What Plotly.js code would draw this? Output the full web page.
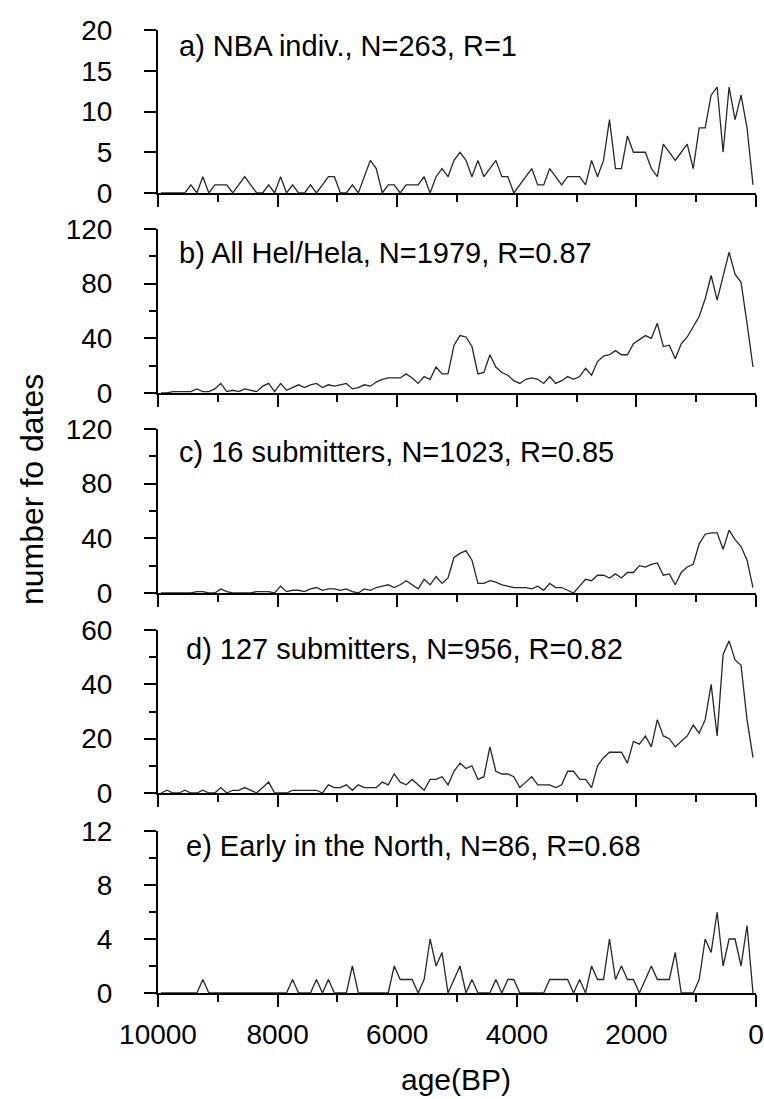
<!DOCTYPE html>
<html>
<head>
<meta charset="utf-8">
<script src="https://cdn.plot.ly/plotly-3.0.1.min.js"></script>
<style>html,body{margin:0;padding:0;background:#fff;}#chart{width:764px;height:1099px;}</style>
</head>
<body>
<div id="chart"></div>
<script>
// Bin centres (years BP), 100-year bins
const ageBP = [9950,9850,9750,9650,9550,9450,9350,9250,9150,9050,
8950,8850,8750,8650,8550,8450,8350,8250,8150,8050,
7950,7850,7750,7650,7550,7450,7350,7250,7150,7050,
6950,6850,6750,6650,6550,6450,6350,6250,6150,6050,
5950,5850,5750,5650,5550,5450,5350,5250,5150,5050,
4950,4850,4750,4650,4550,4450,4350,4250,4150,4050,
3950,3850,3750,3650,3550,3450,3350,3250,3150,3050,
2950,2850,2750,2650,2550,2450,2350,2250,2150,2050,
1950,1850,1750,1650,1550,1450,1350,1250,1150,1050,
950,850,750,650,550,450,350,250,150,50];

const nbaIndiv = [0,0,0,0,0,1,0,2,0,1, 1,1,0,1,2,1,0,0,1,0, 2,0,1,0,0,1,0,1,2,2, 0,0,1,0,2,4,3,0,1,1, 0,1,1,1,2,0,2,3,2,4,
5,4,2,4,2,3,4,2,2,0, 1,2,3,1,1,3,2,1,2,2, 2,1,4,2,4,9,3,3,7,5, 5,5,3,2,6,5,4,5,6,3, 8,8,12,13,5,13,9,12,8,1];

const allHel = [0,0,1,1,1,1,3,1,1,3, 7,1,2,1,3,2,1,5,7,1, 7,2,4,6,4,6,7,4,6,5, 6,7,3,4,6,5,8,10,11,11, 11,14,11,7,12,10,19,14,14,35,
42,41,34,14,15,28,19,15,13,9, 7,10,11,10,7,12,7,9,12,10, 12,18,13,23,27,28,31,28,28,36, 39,42,40,51,34,35,25,36,41,48, 56,69,86,68,85,103,87,81,51,19];

const sub16 = [0,0,0,0,0,0,1,1,0,0, 3,1,0,0,0,0,1,1,1,0, 5,1,2,2,1,3,4,2,3,3, 2,3,1,0,3,2,4,5,6,4, 6,9,6,3,10,6,12,7,11,26,
29,31,24,7,7,9,8,6,5,4, 4,4,3,5,2,7,4,4,2,0, 5,10,9,13,13,11,14,11,15,15, 20,19,21,22,13,14,6,15,19,21, 36,43,44,44,32,46,39,34,24,4];

const sub127 = [0,1,0,0,1,0,0,1,0,0, 2,0,1,1,2,1,0,2,4,0, 0,0,1,1,1,1,1,0,3,2, 2,3,1,3,2,2,2,4,3,7, 4,3,5,3,1,5,5,6,3,8,
11,9,10,5,6,17,8,7,7,6, 2,4,6,3,3,3,2,3,8,8, 5,5,2,10,13,15,15,15,11,19, 18,21,17,27,21,20,17,19,21,25, 22,27,40,21,51,56,49,47,27,13];

const earlyNorth = [0,0,0,0,0,0,0,1,0,0, 0,0,0,0,0,0,0,0,0,0, 0,0,1,0,0,0,1,0,1,0, 0,0,2,0,0,0,0,0,0,2, 1,1,1,0,1,4,2,3,0,1,
2,0,1,0,0,0,1,0,1,1, 0,0,0,0,0,1,1,1,1,0, 1,0,2,1,1,4,1,2,1,1, 0,1,2,1,1,1,3,0,0,0, 1,4,3,6,2,4,4,2,5,0];

const panelLabels = [
  "a) NBA indiv., N=263, R=1",
  "b) All Hel/Hela, N=1979, R=0.87",
  "c) 16 submitters, N=1023, R=0.85",
  "d) 127 submitters, N=956, R=0.82",
  "e) Early in the North, N=86, R=0.68"
];
const series = [nbaIndiv, allHel, sub16, sub127, earlyNorth];
const yMax = [20, 120, 120, 60, 12];
const yLabelStep = [5, 40, 40, 20, 4];
const yMinorStep = [5, 20, 20, 10, 2];
const xTickLabels = ["10000","8000","6000","4000","2000","0"];
const xTickVals = [10000,8000,6000,4000,2000,0];
const xTitle = "age(BP)";
const yTitle = "number fo dates";

// ---- layout geometry (pixels) ----
const W = 764, H = 1099;
const M = {l: 158, r: 8, t: 30, b: 106};
const plotH = H - M.t - M.b, plotW = W - M.l - M.r;
const fy = px => (H - M.b - px) / plotH;
const fx = px => (px - M.l) / plotW;
const panelTop = [30, 229, 429, 630, 831];
const panelBot = [193, 393, 593, 793, 993];
const labelX = [177, 177, 177, 184, 184];
const labelY = [46, 253, 452, 649, 846];

const FONT = "Liberation Sans, Arial, Helvetica, sans-serif";
const data = [];
const layout = {
  width: W, height: H,
  margin: M,
  paper_bgcolor: "#fff", plot_bgcolor: "#fff",
  showlegend: false,
  font: {family: FONT, size: 28, color: "#000"},
  annotations: []
};

for (let i = 0; i < 5; i++) {
  const s = i === 0 ? "" : String(i + 1);
  data.push({
    x: ageBP, y: series[i], type: "scatter", mode: "lines",
    xaxis: "x" + s, yaxis: "y" + s,
    line: {color: "#262626", width: 1.3},
    hoverinfo: "skip"
  });
  layout["xaxis" + s] = {
    domain: [0, 1], anchor: "y" + s,
    range: [10000, 0], autorange: false,
    showline: true, linecolor: "#000", linewidth: 2,
    ticks: "outside", ticklen: 12, tickwidth: 2, tickcolor: "#000",
    tickmode: "array", tickvals: xTickVals, ticktext: xTickLabels,
    minor: {dtick: 1000, tick0: 0, ticks: "outside", ticklen: 7, tickwidth: 2, tickcolor: "#000", showgrid: false},
    showgrid: false, zeroline: false,
    showticklabels: i === 4,
    tickfont: {family: FONT, size: 28, color: "#000"},
    ticklabelstandoff: 3
  };
  layout["yaxis" + s] = {
    domain: [fy(panelBot[i]), fy(panelTop[i])], anchor: "x" + s,
    range: [0, yMax[i]], autorange: false,
    showline: true, linecolor: "#000", linewidth: 2,
    ticks: "outside", ticklen: 12, tickwidth: 2, tickcolor: "#000",
    dtick: yLabelStep[i], tick0: 0,
    minor: {dtick: yMinorStep[i], tick0: 0, ticks: "outside", ticklen: 7, tickwidth: 2, tickcolor: "#000", showgrid: false},
    showgrid: false, zeroline: false,
    tickfont: {family: FONT, size: 28, color: "#000"},
    ticklabelstandoff: 26
  };
  layout.annotations.push({
    text: panelLabels[i], xref: "paper", yref: "paper",
    x: fx(labelX[i]), y: fy(labelY[i]), xanchor: "left", yanchor: "middle",
    showarrow: false, font: {family: FONT, size: 29, color: "#000"}
  });
}
layout.annotations.push({
  text: yTitle, xref: "paper", yref: "paper",
  x: fx(32), y: fy(490), xanchor: "center", yanchor: "middle", textangle: -90,
  showarrow: false, font: {family: FONT, size: 32, color: "#000"}
});
layout.annotations.push({
  text: xTitle, xref: "paper", yref: "paper",
  x: fx(456), y: fy(1079), xanchor: "center", yanchor: "middle",
  showarrow: false, font: {family: FONT, size: 30, color: "#000"}
});

Plotly.newPlot("chart", data, layout, {staticPlot: true, displayModeBar: false});
</script>
</body>
</html>
